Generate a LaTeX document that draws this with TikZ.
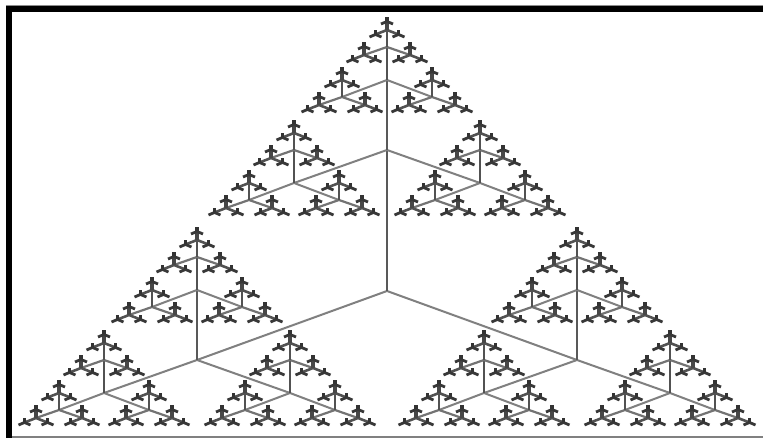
\documentclass[tikz,border=0pt]{standalone}

% arms per level: up, sideways, down
\def\armsUp{{141,70,33,17,8.5,4.5}}
\def\armsSide{{190,93,45,23,11.5,6}}
\def\armsDown{{69,33,17,8,4.5,2.5}}
\def\inksUp{{65,65,68,68,72,80}}
\def\inksSlant{{50,50,50,55,68,78}}
\def\widths{{2,2,2,2.2,2.6,2.8}}

% one node of the tree: x, y, level
\newcommand{\drawbranch}[3]{%
  \ifnum#3<6
    \begingroup
    \pgfmathsetmacro{\xL}{#1-\armsSide[#3]}%
    \pgfmathsetmacro{\xR}{#1+\armsSide[#3]}%
    \pgfmathsetmacro{\yU}{#2+\armsUp[#3]}%
    \pgfmathsetmacro{\yD}{#2-\armsDown[#3]}%
    \pgfmathtruncatemacro{\inkU}{\inksUp[#3]}%
    \pgfmathtruncatemacro{\inkS}{\inksSlant[#3]}%
    \pgfmathsetmacro{\widthN}{\widths[#3]}%
    \pgfmathtruncatemacro{\levelN}{#3+1}%
    \draw[branchline, draw=black!\inkS, line width=\widthN pt] (\xL,\yD) -- (#1,#2) -- (\xR,\yD);
    \draw[branchline, draw=black!\inkU, line width=\widthN pt+0.5pt] (#1,#2) -- (#1,\yU);
    \edef\branchL{\noexpand\drawbranch{\xL}{\yD}{\levelN}}\branchL
    \edef\branchR{\noexpand\drawbranch{\xR}{\yD}{\levelN}}\branchR
    \edef\branchU{\noexpand\drawbranch{#1}{\yU}{\levelN}}\branchU
    \endgroup
  \fi
}

\tikzset{
  branchline/.style={line cap=butt},
  framebar/.style={fill=black}
}

\begin{document}
\begin{tikzpicture}[x=1pt, y=1pt, line join=round]

% ----------------------------
% PAGE
% ----------------------------
\useasboundingbox (0,0) rectangle (763,438);
\fill[white] (0,0) rectangle (763,438);

% ----------------------------
% FRAME
% ----------------------------
\fill[framebar] (6,0) rectangle (12,432);
\fill[framebar] (6,426) rectangle (763,432);
\fill[black!45] (6,432) rectangle (763,433);
\fill[black!50] (12,0) rectangle (763,2);

% ----------------------------
% TREE
% ----------------------------
\def\rootX{387}
\def\rootY{147}
\drawbranch{\rootX}{\rootY}{0}

\end{tikzpicture}
\end{document}
